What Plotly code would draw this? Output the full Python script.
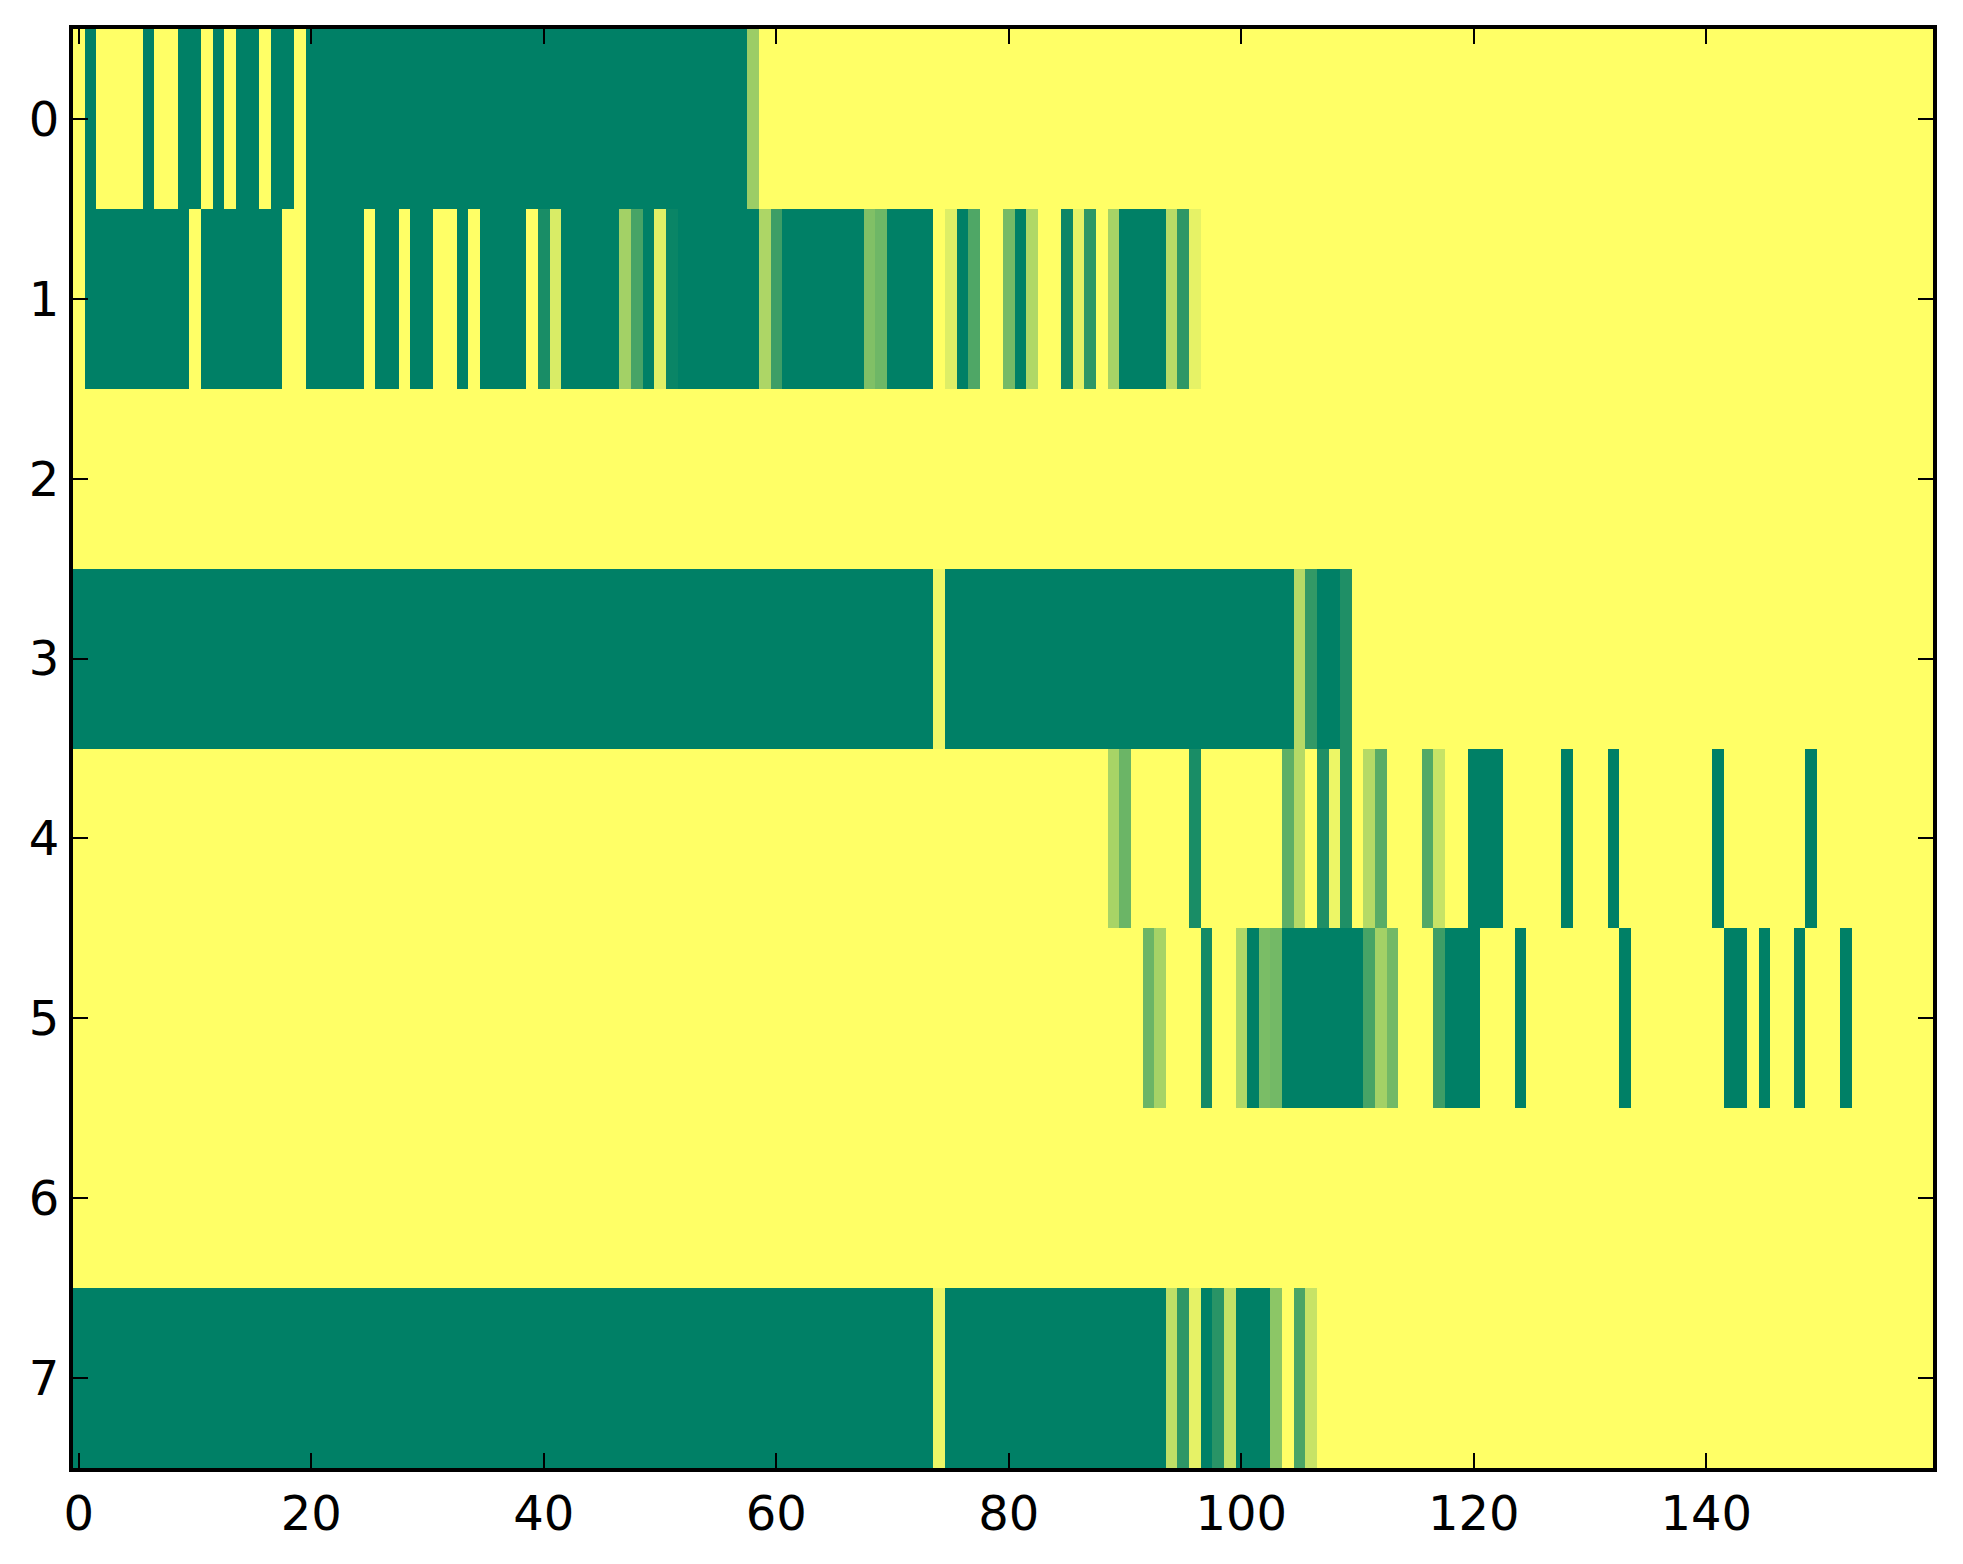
import plotly.graph_objects as go

# rows of the matrix, 160 columns each (0 = yellow, 1 = green)
row0 = [
    0, 1, 0, 0, 0, 0, 1, 0, 0, 1, 1, 0, 1, 0, 1, 1, 0, 1, 1, 0,
    1, 1, 1, 1, 1, 1, 1, 1, 1, 1, 1, 1, 1, 1, 1, 1, 1, 1, 1, 1,
    1, 1, 1, 1, 1, 1, 1, 1, 1, 1, 1, 1, 1, 1, 1, 1, 1, 1, 0.39, 0,
    0, 0, 0, 0, 0, 0, 0, 0, 0, 0, 0, 0, 0, 0, 0, 0, 0, 0, 0, 0,
    0, 0, 0, 0, 0, 0, 0, 0, 0, 0, 0, 0, 0, 0, 0, 0, 0, 0, 0, 0,
    0, 0, 0, 0, 0, 0, 0, 0, 0, 0, 0, 0, 0, 0, 0, 0, 0, 0, 0, 0,
    0, 0, 0, 0, 0, 0, 0, 0, 0, 0, 0, 0, 0, 0, 0, 0, 0, 0, 0, 0,
    0, 0, 0, 0, 0, 0, 0, 0, 0, 0, 0, 0, 0, 0, 0, 0, 0, 0, 0, 0,
]
row1 = [
    0, 1, 1, 1, 1, 1, 1, 1, 1, 1, 0, 1, 1, 1, 1, 1, 1, 1, 0, 0,
    1, 1, 1, 1, 1, 0, 1, 1, 0, 1, 1, 0, 0, 1, 0, 1, 1, 1, 1, 0,
    0.9, 0.15, 1, 1, 1, 1, 1, 0.36, 0.72, 1, 0.12, 0.96, 1, 1, 1, 1, 1, 1, 1, 0.32,
    0.76, 1, 1, 1, 1, 1, 1, 1, 0.5, 0.57, 1, 1, 1, 1, 0, 0.13, 1, 0.69, 0, 0,
    0.54, 1, 0.31, 0, 0, 0.95, 0.1, 0.82, 0, 0.35, 1, 1, 1, 1, 0.28, 0.82, 0.1, 0, 0, 0,
    0, 0, 0, 0, 0, 0, 0, 0, 0, 0, 0, 0, 0, 0, 0, 0, 0, 0, 0, 0,
    0, 0, 0, 0, 0, 0, 0, 0, 0, 0, 0, 0, 0, 0, 0, 0, 0, 0, 0, 0,
    0, 0, 0, 0, 0, 0, 0, 0, 0, 0, 0, 0, 0, 0, 0, 0, 0, 0, 0, 0,
]
row2 = [
    0, 0, 0, 0, 0, 0, 0, 0, 0, 0, 0, 0, 0, 0, 0, 0, 0, 0, 0, 0,
    0, 0, 0, 0, 0, 0, 0, 0, 0, 0, 0, 0, 0, 0, 0, 0, 0, 0, 0, 0,
    0, 0, 0, 0, 0, 0, 0, 0, 0, 0, 0, 0, 0, 0, 0, 0, 0, 0, 0, 0,
    0, 0, 0, 0, 0, 0, 0, 0, 0, 0, 0, 0, 0, 0, 0, 0, 0, 0, 0, 0,
    0, 0, 0, 0, 0, 0, 0, 0, 0, 0, 0, 0, 0, 0, 0, 0, 0, 0, 0, 0,
    0, 0, 0, 0, 0, 0, 0, 0, 0, 0, 0, 0, 0, 0, 0, 0, 0, 0, 0, 0,
    0, 0, 0, 0, 0, 0, 0, 0, 0, 0, 0, 0, 0, 0, 0, 0, 0, 0, 0, 0,
    0, 0, 0, 0, 0, 0, 0, 0, 0, 0, 0, 0, 0, 0, 0, 0, 0, 0, 0, 0,
]
row3 = [
    1, 1, 1, 1, 1, 1, 1, 1, 1, 1, 1, 1, 1, 1, 1, 1, 1, 1, 1, 1,
    1, 1, 1, 1, 1, 1, 1, 1, 1, 1, 1, 1, 1, 1, 1, 1, 1, 1, 1, 1,
    1, 1, 1, 1, 1, 1, 1, 1, 1, 1, 1, 1, 1, 1, 1, 1, 1, 1, 1, 1,
    1, 1, 1, 1, 1, 1, 1, 1, 1, 1, 1, 1, 1, 1, 0.06, 1, 1, 1, 1, 1,
    1, 1, 1, 1, 1, 1, 1, 1, 1, 1, 1, 1, 1, 1, 1, 1, 1, 1, 1, 1,
    1, 1, 1, 1, 1, 0.29, 0.8, 1, 1, 0.88, 0, 0, 0, 0, 0, 0, 0, 0, 0, 0,
    0, 0, 0, 0, 0, 0, 0, 0, 0, 0, 0, 0, 0, 0, 0, 0, 0, 0, 0, 0,
    0, 0, 0, 0, 0, 0, 0, 0, 0, 0, 0, 0, 0, 0, 0, 0, 0, 0, 0, 0,
]
row4 = [
    0, 0, 0, 0, 0, 0, 0, 0, 0, 0, 0, 0, 0, 0, 0, 0, 0, 0, 0, 0,
    0, 0, 0, 0, 0, 0, 0, 0, 0, 0, 0, 0, 0, 0, 0, 0, 0, 0, 0, 0,
    0, 0, 0, 0, 0, 0, 0, 0, 0, 0, 0, 0, 0, 0, 0, 0, 0, 0, 0, 0,
    0, 0, 0, 0, 0, 0, 0, 0, 0, 0, 0, 0, 0, 0, 0, 0, 0, 0, 0, 0,
    0, 0, 0, 0, 0, 0, 0, 0, 0, 0.34, 0.58, 0, 0, 0, 0, 0, 0.9, 0, 0, 0,
    0, 0, 0, 0, 0.63, 0.29, 0, 0.88, 0.07, 0.88, 0, 0.29, 0.65, 0, 0, 0, 0.68, 0.22, 0, 0,
    1, 1, 1, 0, 0, 0, 0, 0, 1, 0, 0, 0, 1, 0, 0, 0, 0, 0, 0, 0,
    0, 1, 0, 0, 0, 0, 0, 0, 0, 1, 0, 0, 0, 0, 0, 0, 0, 0, 0, 0,
]
row5 = [
    0, 0, 0, 0, 0, 0, 0, 0, 0, 0, 0, 0, 0, 0, 0, 0, 0, 0, 0, 0,
    0, 0, 0, 0, 0, 0, 0, 0, 0, 0, 0, 0, 0, 0, 0, 0, 0, 0, 0, 0,
    0, 0, 0, 0, 0, 0, 0, 0, 0, 0, 0, 0, 0, 0, 0, 0, 0, 0, 0, 0,
    0, 0, 0, 0, 0, 0, 0, 0, 0, 0, 0, 0, 0, 0, 0, 0, 0, 0, 0, 0,
    0, 0, 0, 0, 0, 0, 0, 0, 0, 0, 0, 0, 0.58, 0.35, 0, 0, 0, 0.92, 0, 0,
    0.31, 1, 0.52, 0.55, 1, 1, 1, 1, 1, 1, 1, 0.72, 0.36, 0.55, 0, 0, 0, 0.76, 1, 1,
    1, 0, 0, 0, 1, 0, 0, 0, 0, 0, 0, 0, 0, 1, 0, 0, 0, 0, 0, 0,
    0, 0, 1, 1, 0, 1, 0, 0, 1, 0, 0, 0, 1, 0, 0, 0, 0, 0, 0, 0,
]
row6 = [
    0, 0, 0, 0, 0, 0, 0, 0, 0, 0, 0, 0, 0, 0, 0, 0, 0, 0, 0, 0,
    0, 0, 0, 0, 0, 0, 0, 0, 0, 0, 0, 0, 0, 0, 0, 0, 0, 0, 0, 0,
    0, 0, 0, 0, 0, 0, 0, 0, 0, 0, 0, 0, 0, 0, 0, 0, 0, 0, 0, 0,
    0, 0, 0, 0, 0, 0, 0, 0, 0, 0, 0, 0, 0, 0, 0, 0, 0, 0, 0, 0,
    0, 0, 0, 0, 0, 0, 0, 0, 0, 0, 0, 0, 0, 0, 0, 0, 0, 0, 0, 0,
    0, 0, 0, 0, 0, 0, 0, 0, 0, 0, 0, 0, 0, 0, 0, 0, 0, 0, 0, 0,
    0, 0, 0, 0, 0, 0, 0, 0, 0, 0, 0, 0, 0, 0, 0, 0, 0, 0, 0, 0,
    0, 0, 0, 0, 0, 0, 0, 0, 0, 0, 0, 0, 0, 0, 0, 0, 0, 0, 0, 0,
]
row7 = [
    1, 1, 1, 1, 1, 1, 1, 1, 1, 1, 1, 1, 1, 1, 1, 1, 1, 1, 1, 1,
    1, 1, 1, 1, 1, 1, 1, 1, 1, 1, 1, 1, 1, 1, 1, 1, 1, 1, 1, 1,
    1, 1, 1, 1, 1, 1, 1, 1, 1, 1, 1, 1, 1, 1, 1, 1, 1, 1, 1, 1,
    1, 1, 1, 1, 1, 1, 1, 1, 1, 1, 1, 1, 1, 1, 0.07, 1, 1, 1, 1, 1,
    1, 1, 1, 1, 1, 1, 1, 1, 1, 1, 1, 1, 1, 1, 0.25, 0.82, 0.1, 1, 0.84, 0.23,
    1, 1, 1, 0.45, 0, 0.71, 0.22, 0, 0, 0, 0, 0, 0, 0, 0, 0, 0, 0, 0, 0,
    0, 0, 0, 0, 0, 0, 0, 0, 0, 0, 0, 0, 0, 0, 0, 0, 0, 0, 0, 0,
    0, 0, 0, 0, 0, 0, 0, 0, 0, 0, 0, 0, 0, 0, 0, 0, 0, 0, 0, 0,
]

x_ticks = [0, 20, 40, 60, 80, 100, 120, 140]
y_ticks = [0, 1, 2, 3, 4, 5, 6, 7]

z = [row0, row1, row2, row3, row4, row5, row6, row7]

# matplotlib "summer_r"
summer_r = [[0.0, '#ffff66'], [1.0, '#008066']]

fig = go.Figure()
fig.add_trace(go.Heatmap(
    z=z, colorscale=summer_r, zmin=0, zmax=1,
    showscale=False, hoverinfo='skip'))

axis_style = dict(
    showline=True, linecolor='black', linewidth=4, mirror='ticks',
    ticks='inside', ticklen=15, tickwidth=2, tickcolor='black',
    showgrid=False, zeroline=False,
    tickfont=dict(family='DejaVu Sans', size=48, color='black'))

# page body adds an 8px margin, so the figure is made 8px smaller
fig.update_layout(
    width=1955, height=1556,
    margin=dict(l=65, r=30, t=21, b=96),
    paper_bgcolor='white', plot_bgcolor='white',
    xaxis=dict(range=[-0.5, 159.5], tickvals=x_ticks, **axis_style),
    yaxis=dict(range=[7.5, -0.5], tickvals=y_ticks, **axis_style))

fig.write_html("out.html")
